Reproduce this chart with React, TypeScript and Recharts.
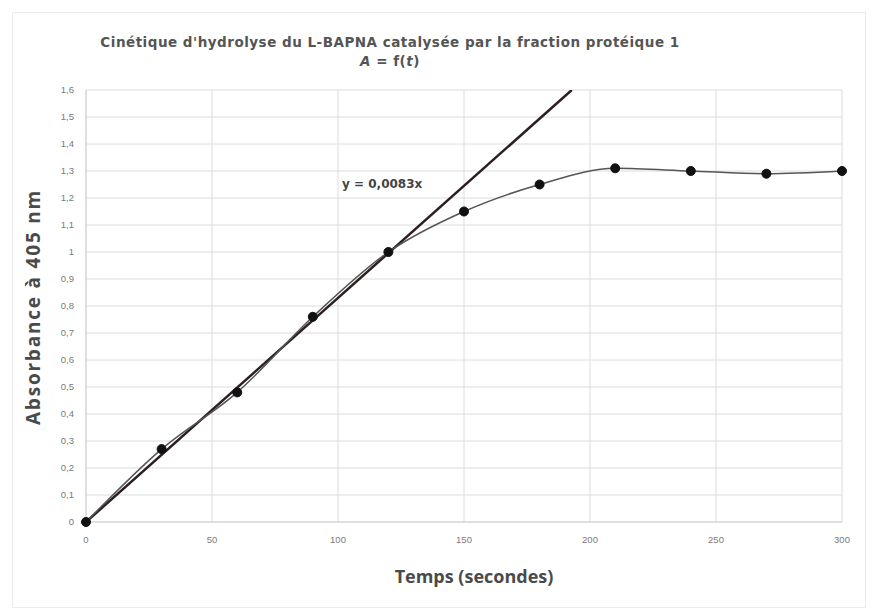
import { CartesianGrid, Line, LineChart, ReferenceLine, XAxis, YAxis } from "recharts";

const times = [0, 30, 60, 90, 120, 150, 180, 210, 240, 270, 300];
const absorbance = [0, 0.27, 0.48, 0.76, 1.0, 1.15, 1.25, 1.31, 1.3, 1.29, 1.3];
const xTicks = [0, 50, 100, 150, 200, 250, 300];
const yTicks = [0, 0.1, 0.2, 0.3, 0.4, 0.5, 0.6, 0.7, 0.8, 0.9, 1, 1.1, 1.2, 1.3, 1.4, 1.5, 1.6];
const slope = 0.0083;
const yMax = 1.6;

const data = times.map((t, i) => ({ t, a: absorbance[i] }));
const fmt = (v: number) => String(v).replace(".", ",");

const tickStyle = { fontSize: 9.5, fill: "#7a7a7a", fontFamily: "Liberation Sans, sans-serif" };

export default function App() {
  return (
    <div style={{ position: "absolute", left: 0, top: 0, width: 874, height: 608, background: "#fff", fontFamily: "Liberation Sans, sans-serif" }}>
      <div style={{ position: "absolute", left: 12, top: 12, width: 852, height: 594, border: "1px solid #ececec" }} />
      <div style={{ position: "absolute", left: 0, top: 33, width: 780, textAlign: "center", fontFamily: "DejaVu Sans, sans-serif", fontWeight: 700, fontSize: 13.5, letterSpacing: 0.5, color: "#555", lineHeight: "19px" }}>
        Cinétique d'hydrolyse du L-BAPNA catalysée par la fraction protéique 1
        <br />
        <i>A</i> = f(<i>t</i>)
      </div>
      <LineChart width={874} height={608} data={data} margin={{ top: 90, right: 32, bottom: 56, left: 36 }}>
        <CartesianGrid stroke="#dcdcdc" strokeWidth={1} />
        <XAxis
          dataKey="t"
          type="number"
          domain={[0, 300]}
          ticks={xTicks}
          tick={tickStyle}
          tickLine={false}
          axisLine={{ stroke: "#d0d0d0" }}
          height={30}
          tickMargin={8}
        />
        <YAxis
          type="number"
          domain={[0, yMax]}
          ticks={yTicks}
          tickFormatter={fmt}
          tick={tickStyle}
          tickLine={false}
          axisLine={{ stroke: "#d0d0d0" }}
          width={50}
          tickMargin={6}
        />
        <ReferenceLine
          segment={[{ x: 0, y: 0 }, { x: yMax / slope, y: yMax }]}
          stroke="#2b1f1f"
          strokeWidth={2.5}
          ifOverflow="hidden"
        />
        <Line
          type="monotone"
          dataKey="a"
          stroke="#555"
          strokeWidth={1.5}
          dot={{ r: 4.5, fill: "#111", stroke: "#111", strokeWidth: 1 }}
          isAnimationActive={false}
        />
      </LineChart>
      <div style={{ position: "absolute", left: 342, top: 177, fontSize: 12, fontWeight: 700, color: "#444", fontFamily: "DejaVu Sans, sans-serif" }}>
        y = 0,0083x
      </div>
      <div style={{ position: "absolute", left: 0, top: 564, width: 948, textAlign: "center", fontFamily: "Open Sans, sans-serif", fontWeight: 700, fontSize: 18, color: "#4a4a4a", lineHeight: "24px" }}>
        Temps (secondes)
      </div>
      <div style={{ position: "absolute", left: 33, top: 307, width: 0, height: 0 }}>
        <div style={{ position: "absolute", left: -150, top: -13, width: 300, height: 26, lineHeight: "26px", textAlign: "center", transform: "rotate(-90deg)", fontFamily: "Open Sans, sans-serif", fontWeight: 700, fontSize: 19, letterSpacing: 1.8, color: "#4a4a4a", whiteSpace: "nowrap" }}>
          Absorbance à 405 nm
        </div>
      </div>
    </div>
  );
}
